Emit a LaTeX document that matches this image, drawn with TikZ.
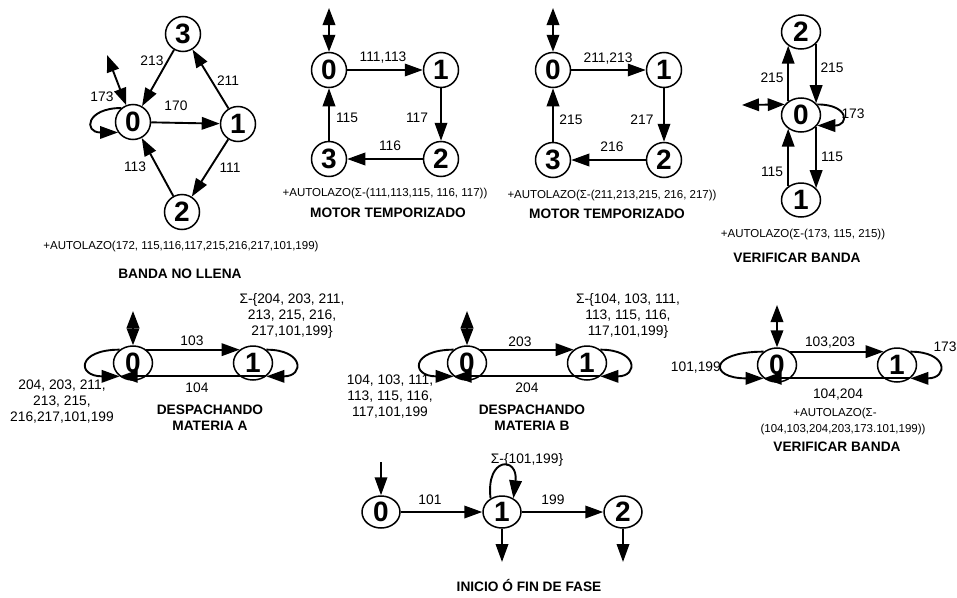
\documentclass[tikz,border=0pt]{standalone}
\usepackage{fontspec}
\setmainfont{Liberation Sans}
\usetikzlibrary{arrows.meta,shapes.geometric}
\begin{document}
\begin{tikzpicture}[x=1pt,y=-1pt,
  st/.style={circle,draw,line width=1.5pt,minimum size=35pt,inner sep=0pt,font=\fontsize{28}{28}\selectfont\bfseries},
  ste/.style={ellipse,draw,line width=1.5pt,minimum width=39pt,minimum height=34pt,inner sep=0pt,font=\fontsize{28}{28}\selectfont\bfseries},
  ed/.style={line width=1.9pt,-{Triangle[length=18pt,width=12.5pt]}},
  dbl/.style={line width=1.9pt,{Triangle[length=17pt,width=12.5pt]}-{Triangle[length=17pt,width=12.5pt]}},
  lb/.style={font=\fontsize{13.8}{15}\selectfont,inner sep=0pt},
  ml/.style={font=\fontsize{13.8}{16}\selectfont,align=center,inner sep=0pt},
  capt/.style={font=\fontsize{11.5}{13}\selectfont,inner sep=0pt},
  ttl/.style={font=\fontsize{13.7}{16}\selectfont\bfseries,align=center,inner sep=0pt},
]
\fill[white] (0,0) rectangle (957,597);
\path[use as bounding box] (0,0) rectangle (957,597);

% ---------- Diagram 1: BANDA NO LLENA
\node[st] (A0) at (133,122) {0};
\node[st] (A1) at (238,124) {1};
\node[st] (A3) at (183,34) {3};
\node[st] (A2) at (182,212) {2};
\draw[ed] (A0) -- (A1);
\draw[ed] (A1) -- (A3);
\draw[ed] (A3) -- (A0);
\draw[ed] (A1) -- (A2);
\draw[ed] (A2) -- (A0);
\draw[ed] (A0.130) .. controls +(-35,0) and +(-35,0) .. (A0.215);
\coordinate (Ai) at (107,55);
\draw[dbl] (Ai) -- (A0.112);
\node[lb] (a170) at (176,106) {170};
\node[lb] (a211) at (228,81) {211};
\node[lb] (a213) at (152,61) {213};
\node[lb] (a111) at (230,168) {111};
\node[lb] (a113) at (135,167) {113};
\node[lb] (a173) at (102,97) {173};
\node[capt] (acap) at (181,247) {+AUTOLAZO(172, 115,116,117,215,216,217,101,199)};
\node[ttl] (attl) at (180,274) {BANDA NO LLENA};

% ---------- Diagram 2: MOTOR TEMPORIZADO
\node[st] (B0) at (329,70) {0};
\node[st] (B1) at (441,70) {1};
\node[st] (B2) at (441,159) {2};
\node[st] (B3) at (329,159) {3};
\draw[ed] (B0) -- (B1);
\draw[ed] (B1) -- (B2);
\draw[ed] (B2) -- (B3);
\draw[ed] (B3) -- (B0);
\coordinate (Bi) at (329,8);
\draw[dbl] (Bi) -- (B0.north);
\node[lb] (b1) at (383,58) {111,113};
\node[lb] (b2) at (417,118) {117};
\node[lb] (b3) at (390,146) {116};
\node[lb] (b4) at (347,118) {115};
\node[capt] (bcap) at (385,194) {+AUTOLAZO(Σ-(111,113,115, 116, 117))};
\node[ttl] (bttl) at (388,213) {MOTOR TEMPORIZADO};

% ---------- Diagram 3: MOTOR TEMPORIZADO
\node[st] (C0) at (553,70) {0};
\node[st] (C1) at (664,70) {1};
\node[st] (C2) at (664,160) {2};
\node[st] (C3) at (553,160) {3};
\draw[ed] (C0) -- (C1);
\draw[ed] (C1) -- (C2);
\draw[ed] (C2) -- (C3);
\draw[ed] (C3) -- (C0);
\coordinate (Ci) at (553,8);
\draw[dbl] (Ci) -- (C0.north);
\node[lb] (c1) at (608,59) {211,213};
\node[lb] (c2) at (642,120) {217};
\node[lb] (c3) at (612,147) {216};
\node[lb] (c4) at (571,120) {215};
\node[capt] (ccap) at (612,196) {+AUTOLAZO(Σ-(211,213,215, 216, 217))};
\node[ttl] (cttl) at (607,214) {MOTOR TEMPORIZADO};

% ---------- Diagram 4: VERIFICAR BANDA
\node[ste] (D2) at (801,32) {2};
\node[ste] (D0) at (801,115) {0};
\node[ste] (D1) at (801,200) {1};
\draw[ed] (D0.133) -- (D2.227);
\draw[ed] (D2.-38) -- (D0.38);
\draw[ed] (D0.-38) -- (D1.38);
\draw[ed] (D1.133) -- (D0.227);
\draw[ed] (D0.33) .. controls +(32,0) and +(32,0) .. (D0.-33);
\coordinate (Di) at (742,105);
\draw[dbl] (Di) -- (D0.147);
\node[lb] (d1) at (772,78) {215};
\node[lb] (d2) at (832,68) {215};
\node[lb] (d3) at (832,157) {115};
\node[lb] (d4) at (772,172) {115};
\node[lb] (d5) at (853,114) {173};
\node[capt] (dcap) at (803,235) {+AUTOLAZO(Σ-(173, 115, 215))};
\node[ttl] (dttl) at (797,258) {VERIFICAR BANDA};

% ---------- Diagram 5: DESPACHANDO MATERIA A
\node[ste] (E0) at (133,363) {0};
\node[ste] (E1) at (253,363) {1};
\draw[ed] (E0.45) -- (E1.135);
\draw[ed] (E1.-45) -- (E0.-135);
\draw[ed] (E0.135) .. controls +(-43,0) and +(-43,0) .. (E0.-135);
\draw[ed] (E1.45) .. controls +(38,0) and +(38,0) .. (E1.-45);
\coordinate (Ei) at (133,311);
\draw[dbl] (Ei) -- (E0.north);
\node[lb] (e1) at (192,341) {103};
\node[lb] (e2) at (197,388) {104};
\node[ml] (e3) at (62,402) {204, 203, 211,\\213, 215,\\216,217,101,199};
\node[ml] (e4) at (292,316) {Σ-\{204, 203, 211,\\213, 215, 216,\\217,101,199\}};
\node[ttl] (ettl) at (210,418) {DESPACHANDO\\MATERIA A};

% ---------- Diagram 6: DESPACHANDO MATERIA B
\node[ste] (F0) at (467,363) {0};
\node[ste] (F1) at (587,363) {1};
\draw[ed] (F0.45) -- (F1.135);
\draw[ed] (F1.-45) -- (F0.-135);
\draw[ed] (F0.135) .. controls +(-43,0) and +(-43,0) .. (F0.-135);
\draw[ed] (F1.45) .. controls +(38,0) and +(38,0) .. (F1.-45);
\coordinate (Fi) at (467,311);
\draw[dbl] (Fi) -- (F0.north);
\node[lb] (f1) at (520,342) {203};
\node[lb] (f2) at (527,388) {204};
\node[ml] (f3) at (390,397) {104, 103, 111,\\113, 115, 116,\\117,101,199};
\node[ml] (f4) at (628,316) {Σ-\{104, 103, 111,\\113, 115, 116,\\117,101,199\}};
\node[ttl] (fttl) at (532,418) {DESPACHANDO\\MATERIA B};

% ---------- Diagram 7: VERIFICAR BANDA
\node[ste] (G0) at (777,365) {0};
\node[ste] (G1) at (897,365) {1};
\draw[ed] (G0.45) -- (G1.135);
\draw[ed] (G1.-45) -- (G0.-135);
\draw[ed] (G0.135) .. controls +(-55,0) and +(-55,0) .. (G0.-135);
\draw[ed] (G1.45) .. controls +(38,0) and +(38,0) .. (G1.-45);
\coordinate (Gi) at (777,305);
\draw[dbl] (Gi) -- (G0.north);
\node[lb] (g1) at (830,343) {103,203};
\node[lb] (g2) at (838,395) {104,204};
\node[lb,anchor=east] (g3) at (721,368) {101,199};
\node[lb] (g4) at (945,347) {173};
\node[capt] (gcap1) at (835,414) {+AUTOLAZO(Σ-};
\node[capt] (gcap2) at (843,430) {(104,103,204,203,173.101,199))};
\node[ttl] (gttl) at (837,447) {VERIFICAR BANDA};

% ---------- Diagram 8: INICIO O FIN DE FASE
\node[ste,minimum height=32pt,minimum width=38pt] (H0) at (381,512) {0};
\node[ste,minimum height=32pt,minimum width=38pt] (H1) at (502,512) {1};
\node[ste,minimum height=32pt,minimum width=38pt] (H2) at (623,512) {2};
\draw[ed] (H0) -- (H1);
\draw[ed] (H1) -- (H2);
\draw[ed] (H1.130) .. controls +(-5,-42) and +(5,-42) .. (H1.50);
\coordinate (Hi) at (381,462);
\draw[ed] (Hi) -- (H0.north);
\coordinate (Hm1) at (502,562);
\coordinate (Hm2) at (623,562);
\draw[ed] (H1.south) -- (Hm1);
\draw[ed] (H2.south) -- (Hm2);
\node[lb] (h1) at (430,500) {101};
\node[lb] (h2) at (553,500) {199};
\node[lb] (h3) at (527,460) {Σ-\{101,199\}};
\node[ttl] (httl) at (529,585) {INICIO Ó FIN DE FASE};
\end{tikzpicture}
\end{document}
